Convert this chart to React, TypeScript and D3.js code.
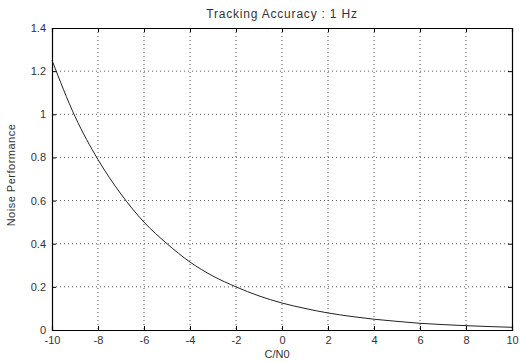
import React, { useEffect, useRef } from "react";
import * as d3 from "d3";

// C/N0 (dB-Hz) vs noise performance
const cn0 = [-10, -9, -8, -7, -6, -5, -4, -3, -2, -1, 0, 1, 2, 3, 4, 5, 6, 7, 8, 9, 10];
const noise = [
  1.25, 0.99, 0.79, 0.63, 0.5, 0.4, 0.315, 0.25, 0.2, 0.158, 0.125, 0.1, 0.079,
  0.063, 0.05, 0.04, 0.031, 0.025, 0.02, 0.016, 0.0125
];
const xTicks = [-10, -8, -6, -4, -2, 0, 2, 4, 6, 8, 10];
const yTicks = [0, 0.2, 0.4, 0.6, 0.8, 1, 1.2, 1.4];

const W = 521,
  H = 362;
const margin = { top: 28, right: 9, bottom: 32, left: 52 };
const iw = W - margin.left - margin.right;
const ih = H - margin.top - margin.bottom;

const App = () => {
  const ref = useRef<SVGSVGElement>(null);

  useEffect(() => {
    const svg = d3.select(ref.current);
    svg.selectAll("*").remove();

    const x = d3.scaleLinear().domain([-10, 10]).range([0, iw]);
    const y = d3.scaleLinear().domain([0, 1.4]).range([ih, 0]);

    const g = svg
      .append("g")
      .attr("transform", "translate(" + margin.left + "," + margin.top + ")");

    // dotted grid
    g.append("g")
      .selectAll("line")
      .data(xTicks.slice(1, -1))
      .enter()
      .append("line")
      .attr("x1", d => x(d))
      .attr("x2", d => x(d))
      .attr("y1", 0)
      .attr("y2", ih)
      .attr("stroke", "#555")
      .attr("stroke-dasharray", "1,3");
    g.append("g")
      .selectAll("line")
      .data(yTicks.slice(1, -1))
      .enter()
      .append("line")
      .attr("y1", d => y(d))
      .attr("y2", d => y(d))
      .attr("x1", 0)
      .attr("x2", iw)
      .attr("stroke", "#555")
      .attr("stroke-dasharray", "1,3");

    // axes, ticks pointing inward like matlab
    const font = "'Liberation Sans', Arial, sans-serif";
    const bottom = g
      .append("g")
      .attr("transform", "translate(0," + ih + ")")
      .call(d3.axisBottom(x).tickValues(xTicks).tickSize(-4).tickPadding(6).tickFormat(d => String(d)));
    const left = g
      .append("g")
      .call(d3.axisLeft(y).tickValues(yTicks).tickSize(-4).tickPadding(6).tickFormat(d => String(d)));
    g.append("g").call(d3.axisTop(x).tickValues(xTicks).tickSize(-4).tickFormat(() => ""));
    g.append("g")
      .attr("transform", "translate(" + iw + ",0)")
      .call(d3.axisRight(y).tickValues(yTicks).tickSize(-4).tickFormat(() => ""));

    g.selectAll(".domain").attr("stroke", "#000").attr("stroke-width", 1.2);
    g.selectAll(".tick line").attr("stroke", "#000");
    [bottom, left].forEach(a =>
      a.selectAll("text").attr("font-family", font).attr("font-size", 11).attr("fill", "#333")
    );

    // curve
    const line = d3
      .line<number>()
      .x((d, i) => x(cn0[i]))
      .y(d => y(d))
      .curve(d3.curveMonotoneX);
    g.append("path")
      .datum(noise)
      .attr("d", line)
      .attr("fill", "none")
      .attr("stroke", "#222")
      .attr("stroke-width", 1);

    // labels
    svg
      .append("text")
      .attr("x", margin.left + iw / 2)
      .attr("y", 18)
      .attr("text-anchor", "middle")
      .attr("font-family", font)
      .attr("font-size", 12)
      .attr("letter-spacing", 0.8)
      .attr("fill", "#333")
      .text("Tracking Accuracy : 1 Hz");
    svg
      .append("text")
      .attr("x", margin.left + iw / 2 - 5)
      .attr("y", 358)
      .attr("text-anchor", "middle")
      .attr("font-family", font)
      .attr("font-size", 11)
      .attr("fill", "#333")
      .text("C/N0");
    svg
      .append("text")
      .attr("transform", "translate(15,175) rotate(-90)")
      .attr("text-anchor", "middle")
      .attr("font-family", font)
      .attr("font-size", 11)
      .attr("letter-spacing", 0.5)
      .attr("fill", "#333")
      .text("Noise Performance");
  }, []);

  return (
    <svg
      ref={ref}
      width={W}
      height={H}
      style={{ position: "absolute", left: 0, top: 0, background: "#fff" }}
    />
  );
};

export default App;
